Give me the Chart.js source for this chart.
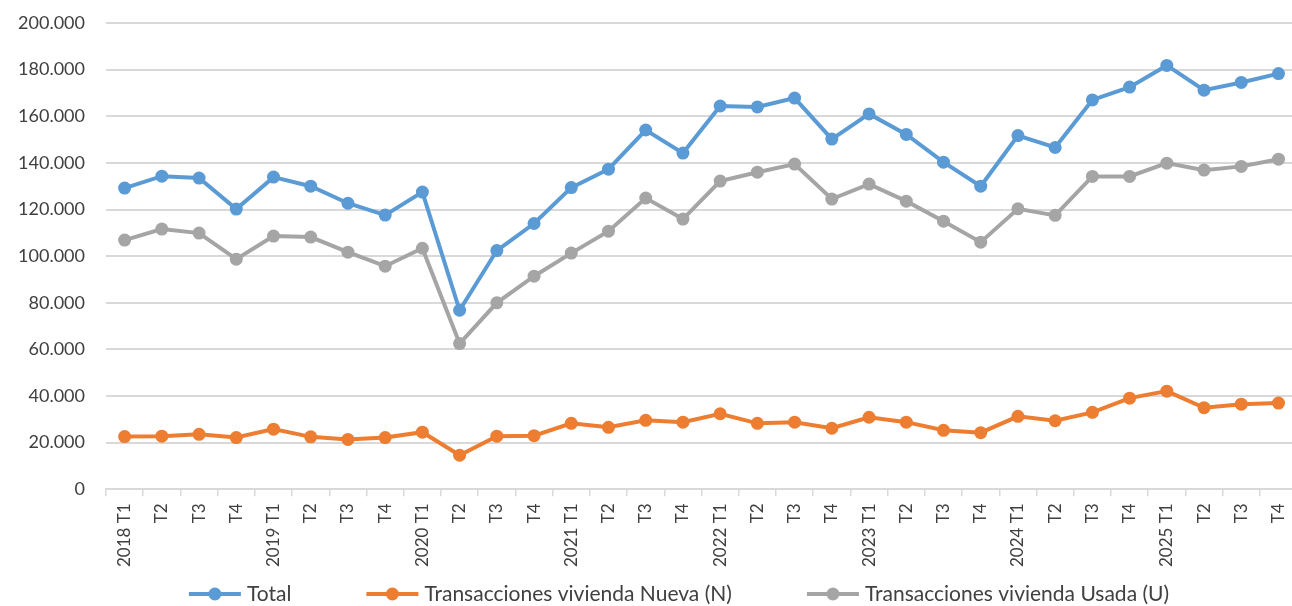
<!DOCTYPE html>
<html>
<head>
<meta charset="utf-8">
<script src="https://cdn.jsdelivr.net/npm/chart.js@4.4.1/dist/chart.umd.min.js"></script>
<style>
html, body { margin: 0; padding: 0; background: #fff; overflow: hidden; }
#wrap { width: 1306px; height: 606px; position: relative; }
</style>
</head>
<body>
<div id="wrap"><canvas id="myChart"></canvas></div>
<script>
// quarters 2018 T1 .. 2025 T4
const quarters = [
  '2018 T1', 'T2', 'T3', 'T4',
  '2019 T1', 'T2', 'T3', 'T4',
  '2020 T1', 'T2', 'T3', 'T4',
  '2021 T1', 'T2', 'T3', 'T4',
  '2022 T1', 'T2', 'T3', 'T4',
  '2023 T1', 'T2', 'T3', 'T4',
  '2024 T1', 'T2', 'T3', 'T4',
  '2025 T1', 'T2', 'T3', 'T4'
]

const total = [
  129200, 134300, 133500, 120200,
  133900, 130000, 122700, 117600,
  127500, 76800, 102400, 114000,
  129400, 137300, 154100, 144200,
  164400, 164000, 167800, 150200,
  161000, 152200, 140300, 130000,
  151700, 146600, 167000, 172500,
  181800, 171200, 174500, 178300
]

const nueva = [
  22600, 22800, 23600, 22200,
  25800, 22500, 21400, 22200,
  24500, 14600, 22800, 23000,
  28300, 26600, 29600, 28800,
  32400, 28300, 28800, 26200,
  30900, 28800, 25300, 24300,
  31300, 29400, 33000, 39100,
  42100, 35000, 36500, 37000
]

const usada = [
  106900, 111600, 109900, 98700,
  108600, 108200, 101700, 95700,
  103400, 62500, 80000, 91400,
  101300, 110700, 124900, 115900,
  132200, 136000, 139500, 124500,
  130900, 123600, 115000, 106000,
  120300, 117500, 134200, 134200,
  139900, 136900, 138500, 141600
]

const yTicks = [0, 20000, 40000, 60000, 80000, 100000, 120000, 140000, 160000, 180000, 200000]

const textColor = '#404040'
const gridColor = '#d9d9d9'
const fontFamily = 'Lato, "Open Sans", sans-serif'

function fmt(v) {
  return String(v).replace(/\B(?=(\d{3})+(?!\d))/g, '.')
}

// legend drawn like the spreadsheet one: short line with a dot in the middle
const lineLegend = {
  id: 'lineLegend',
  afterDraw(chart) {
    const ctx = chart.ctx
    ctx.save()
    ctx.font = '21px ' + fontFamily
    const items = chart.data.datasets.map(ds => ({
      text: ds.label,
      color: ds.borderColor,
      w: ctx.measureText(ds.label).width
    }))
    const markerW = 52
    const textGap = 6
    const itemGap = 75
    let width = items.reduce((s, it) => s + markerW + textGap + it.w, 0) + itemGap * (items.length - 1)
    let x = 679 - width / 2
    const y = 594
    items.forEach(it => {
      ctx.strokeStyle = it.color
      ctx.lineWidth = 4
      ctx.beginPath()
      ctx.moveTo(x, y)
      ctx.lineTo(x + markerW, y)
      ctx.stroke()
      ctx.fillStyle = it.color
      ctx.beginPath()
      ctx.arc(x + markerW / 2, y, 6.5, 0, Math.PI * 2)
      ctx.fill()
      ctx.fillStyle = textColor
      ctx.textBaseline = 'middle'
      ctx.textAlign = 'left'
      ctx.fillText(it.text, x + markerW + textGap, y)
      x += markerW + textGap + it.w + itemGap
    })
    ctx.restore()
  }
}

function series(label, data, color, order) {
  return {
    label: label,
    data: data,
    borderColor: color,
    backgroundColor: color,
    pointBackgroundColor: color,
    pointBorderColor: color,
    borderWidth: 4,
    pointRadius: 6.5,
    pointBorderWidth: 0,
    tension: 0,
    order: order
  }
}

const ctx = document.getElementById('myChart')
new Chart(ctx, {
  type: 'line',
  data: {
    labels: quarters,
    datasets: [
      series('Total', total, '#5b9bd5', 2),
      series('Transacciones vivienda Nueva (N)', nueva, '#ed7d31', 1),
      series('Transacciones vivienda Usada (U)', usada, '#a5a5a5', 0)
    ]
  },
  options: {
    responsive: true,
    maintainAspectRatio: false,
    animation: false,
    devicePixelRatio: 1,
    layout: {
      padding: { top: 23, bottom: 32, left: 0, right: 0 }
    },
    plugins: {
      legend: { display: false },
      tooltip: { enabled: false }
    },
    scales: {
      x: {
        offset: true,
        grid: {
          offset: true,
          drawOnChartArea: false,
          drawTicks: true,
          tickLength: 7,
          color: gridColor,
          lineWidth: 1.5
        },
        border: { color: gridColor, width: 2 },
        ticks: {
          autoSkip: false,
          maxRotation: 90,
          minRotation: 90,
          padding: 7,
          color: textColor,
          font: { size: 17, family: fontFamily }
        }
      },
      y: {
        min: 0,
        max: 200000,
        afterBuildTicks(scale) {
          scale.ticks = yTicks.map(v => ({ value: v }))
        },
        afterFit(scale) {
          scale.width = 106
        },
        // invisible tick marks give the gap between labels and plot
        grid: { color: gridColor, lineWidth: 2, drawTicks: true, tickLength: 19, tickColor: 'rgba(0,0,0,0)' },
        border: { display: false },
        ticks: {
          padding: 2,
          color: textColor,
          font: { size: 18, family: fontFamily },
          callback: v => fmt(v)
        }
      }
    }
  },
  plugins: [lineLegend]
})
</script>
</body>
</html>
